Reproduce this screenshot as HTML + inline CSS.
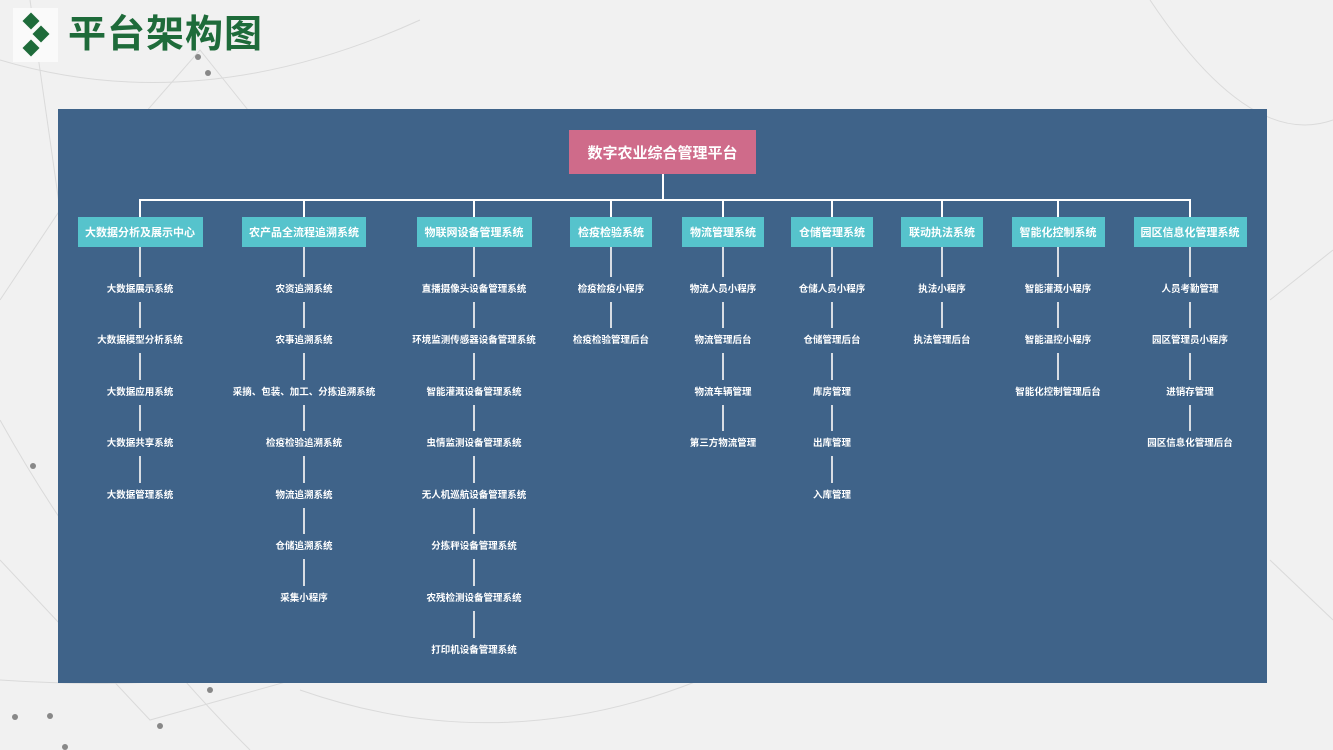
<!DOCTYPE html>
<html><head><meta charset="utf-8"><style>
*{margin:0;padding:0;box-sizing:border-box}
body{width:1333px;height:750px;overflow:hidden;background:#f1f1f1;position:relative;font-family:"Liberation Sans","Noto Sans CJK SC",sans-serif}
.bg{position:absolute;left:0;top:0}
.icon{position:absolute;left:13px;top:8px;width:45px;height:54px;background:#fafafa}
.d{position:absolute;width:12px;height:12px;background:#1e6b3a;transform:rotate(45deg)}
.title{position:absolute;left:68px;top:10px;font-size:38px;font-weight:bold;color:#1e6b3a;line-height:50px;letter-spacing:1px}
.panel{position:absolute;left:58px;top:109px;width:1209px;height:574px;background:#3f6389}
.root{position:absolute;left:569px;top:130px;width:187px;height:44px;background:#cf6b8a;color:#fff;font-weight:bold;font-size:15px;display:flex;align-items:center;justify-content:center}
.h{position:absolute;background:#fff}
.col{position:absolute;top:217px;display:flex;flex-direction:column;align-items:center;width:240px;margin-left:-120px}
.box{height:30px;background:#56c3cc;color:#fff;font-size:11px;font-weight:bold;display:flex;align-items:center;justify-content:center;white-space:nowrap}
.l1{width:2px;height:29.5px;background:#d8dde3}
.ln{width:2px;height:26.6px;background:#d8dde3}
.lf{height:25px;line-height:25px;color:#fff;font-size:9.5px;font-weight:bold;white-space:nowrap}
</style></head><body>
<svg class="bg" width="1333" height="750" stroke="#dadada" stroke-width="1" fill="none">
<path d="M0 60 Q200 120 420 20"/><path d="M30 0 L60 210 L0 300"/><path d="M60 210 L200 50 L320 200"/><path d="M0 420 Q100 600 250 750"/><path d="M0 680 Q300 700 500 600"/><path d="M0 560 L150 720 L400 650"/><path d="M1150 0 Q1250 150 1333 120"/><path d="M1270 300 L1333 250"/><path d="M1270 560 L1333 620"/><path d="M300 690 Q500 760 700 680"/>
<g fill="#888" stroke="none"><circle cx="33" cy="466" r="3"/><circle cx="50" cy="716" r="3"/><circle cx="15" cy="717" r="3"/><circle cx="210" cy="690" r="3"/><circle cx="160" cy="726" r="3"/><circle cx="208" cy="73" r="3"/><circle cx="198" cy="57" r="3"/><circle cx="65" cy="747" r="3"/></g>
</svg>
<div class="icon"><div class="d" style="left:12px;top:7px"></div><div class="d" style="left:22px;top:20px"></div><div class="d" style="left:12px;top:34px"></div></div>
<div class="title">平台架构图</div>
<div class="panel"></div>
<div class="root">数字农业综合管理平台</div>
<div class="h" style="left:662px;top:174px;width:2px;height:26px"></div>
<div class="h" style="left:139px;top:199px;width:1052px;height:2px"></div>
<div class="h" style="left:139px;top:200px;width:2px;height:17px"></div>
<div class="h" style="left:303px;top:200px;width:2px;height:17px"></div>
<div class="h" style="left:473px;top:200px;width:2px;height:17px"></div>
<div class="h" style="left:610px;top:200px;width:2px;height:17px"></div>
<div class="h" style="left:722px;top:200px;width:2px;height:17px"></div>
<div class="h" style="left:831px;top:200px;width:2px;height:17px"></div>
<div class="h" style="left:941px;top:200px;width:2px;height:17px"></div>
<div class="h" style="left:1057px;top:200px;width:2px;height:17px"></div>
<div class="h" style="left:1189px;top:200px;width:2px;height:17px"></div>

<div class="col" style="left:140px"><div class="box" style="width:125px">大数据分析及展示中心</div><div class="l1"></div><div class="lf">大数据展示系统</div><div class="ln"></div><div class="lf">大数据模型分析系统</div><div class="ln"></div><div class="lf">大数据应用系统</div><div class="ln"></div><div class="lf">大数据共享系统</div><div class="ln"></div><div class="lf">大数据管理系统</div></div>
<div class="col" style="left:304px"><div class="box" style="width:124px">农产品全流程追溯系统</div><div class="l1"></div><div class="lf">农资追溯系统</div><div class="ln"></div><div class="lf">农事追溯系统</div><div class="ln"></div><div class="lf">采摘、包装、加工、分拣追溯系统</div><div class="ln"></div><div class="lf">检疫检验追溯系统</div><div class="ln"></div><div class="lf">物流追溯系统</div><div class="ln"></div><div class="lf">仓储追溯系统</div><div class="ln"></div><div class="lf">采集小程序</div></div>
<div class="col" style="left:474px"><div class="box" style="width:115px">物联网设备管理系统</div><div class="l1"></div><div class="lf">直播摄像头设备管理系统</div><div class="ln"></div><div class="lf">环境监测传感器设备管理系统</div><div class="ln"></div><div class="lf">智能灌溉设备管理系统</div><div class="ln"></div><div class="lf">虫情监测设备管理系统</div><div class="ln"></div><div class="lf">无人机巡航设备管理系统</div><div class="ln"></div><div class="lf">分拣秤设备管理系统</div><div class="ln"></div><div class="lf">农残检测设备管理系统</div><div class="ln"></div><div class="lf">打印机设备管理系统</div></div>
<div class="col" style="left:611px"><div class="box" style="width:82px">检疫检验系统</div><div class="l1"></div><div class="lf">检疫检疫小程序</div><div class="ln"></div><div class="lf">检疫检验管理后台</div></div>
<div class="col" style="left:723px"><div class="box" style="width:82px">物流管理系统</div><div class="l1"></div><div class="lf">物流人员小程序</div><div class="ln"></div><div class="lf">物流管理后台</div><div class="ln"></div><div class="lf">物流车辆管理</div><div class="ln"></div><div class="lf">第三方物流管理</div></div>
<div class="col" style="left:832px"><div class="box" style="width:82px">仓储管理系统</div><div class="l1"></div><div class="lf">仓储人员小程序</div><div class="ln"></div><div class="lf">仓储管理后台</div><div class="ln"></div><div class="lf">库房管理</div><div class="ln"></div><div class="lf">出库管理</div><div class="ln"></div><div class="lf">入库管理</div></div>
<div class="col" style="left:942px"><div class="box" style="width:82px">联动执法系统</div><div class="l1"></div><div class="lf">执法小程序</div><div class="ln"></div><div class="lf">执法管理后台</div></div>
<div class="col" style="left:1058px"><div class="box" style="width:93px">智能化控制系统</div><div class="l1"></div><div class="lf">智能灌溉小程序</div><div class="ln"></div><div class="lf">智能温控小程序</div><div class="ln"></div><div class="lf">智能化控制管理后台</div></div>
<div class="col" style="left:1190px"><div class="box" style="width:113px">园区信息化管理系统</div><div class="l1"></div><div class="lf">人员考勤管理</div><div class="ln"></div><div class="lf">园区管理员小程序</div><div class="ln"></div><div class="lf">进销存管理</div><div class="ln"></div><div class="lf">园区信息化管理后台</div></div>
</body></html>
